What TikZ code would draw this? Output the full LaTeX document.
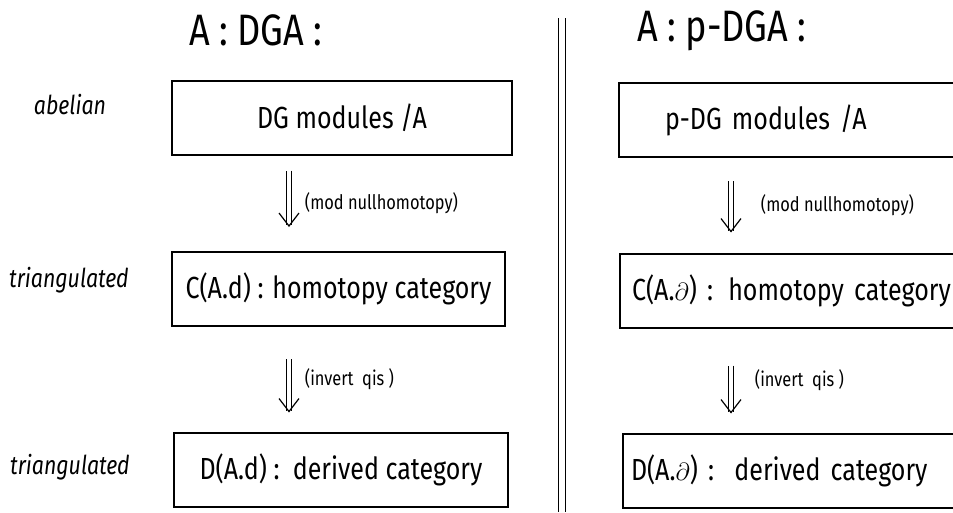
\documentclass[tikz,border=0pt]{standalone}
\usepackage{fontspec}
\setmainfont{Fira Sans}[FakeStretch=0.82]
\usetikzlibrary{arrows.meta,positioning}

\begin{document}
\begin{tikzpicture}[x=1pt,y=1pt,
    catbox/.style={draw, line width=2pt, minimum height=74pt, inner sep=0pt,
                   font=\fontsize{30.5}{36}\selectfont},
    kindlbl/.style={font=\fontsize{26}{30}\selectfont\itshape},
    steplbl/.style={font=\fontsize{20}{24}\selectfont},
    dgatitle/.style={font=\fontsize{44}{50}\selectfont},
    quot/.style={double, double distance=3.5pt, line width=1.2pt,
                 -{Straight Barb[length=13pt,width=20pt]}}]
  \useasboundingbox (0,0) rectangle (953,-512);

  % left column: ordinary DGA
  \node[dgatitle] (dgattl) at (256,-30) {A : DGA :};
  \node[catbox, minimum width=340pt] (dgmod) at (342,-117.5) {DG modules /A};
  \node[catbox, minimum width=333pt] (homot) at (338.5,-289) {C(A.d) : homotopy category};
  \node[catbox, minimum width=334pt] (deriv) at (341,-469.5) {D(A.d) :\ \ derived category};

  \node[kindlbl] (abel) at (70,-105) {abelian};
  \node[kindlbl] (triaa) at (69,-280) {triangulated};
  \node[kindlbl] (triab) at (70,-467) {triangulated};

  \coordinate (lcol) at (289,0);
  \coordinate (rcol) at (731,0);

  \draw[quot, shorten <=15pt, shorten >=24pt] (dgmod.south -| lcol) -- (homot.north -| lcol)
    node[midway, right=12pt, steplbl] {(mod nullhomotopy)};
  \draw[quot, shorten <=32pt, shorten >=19pt] (homot.south -| lcol) -- (deriv.north -| lcol)
    node[midway, right=12pt, steplbl] {(invert\ \ qis )};

  % separator
  \coordinate (septop) at (562,-18);
  \coordinate (sepbot) at (562,-512);
  \draw[double, double distance=5.5pt, line width=1.6pt] (septop) -- (sepbot);

  % right column: p-DGA
  \node[dgatitle] (pdgattl) at (722,-31) {A : p-DGA :};
  \node[catbox, anchor=west, text width=333pt, inner xsep=6pt, align=left] (pdgmod) at (618,-120)
    {\hspace*{40pt}p-DG modules /A};
  \node[catbox, anchor=west, text width=333pt, inner xsep=6pt, align=left] (phomot) at (619,-290.5)
    {\hspace*{6pt}C(A.$\partial$) : homotopy category};
  \node[catbox, anchor=west, text width=333pt, inner xsep=6pt, align=left] (pderiv) at (622,-470.5)
    {\hspace*{2pt}D(A.$\partial$) :\ \ derived category};

  \draw[quot, shorten <=23pt, shorten >=20pt] (pdgmod.south -| rcol) -- (phomot.north -| rcol)
    node[midway, right=26pt, steplbl] {(mod nullhomotopy)};
  \draw[quot, shorten <=37pt, shorten >=19pt] (phomot.south -| rcol) -- (pderiv.north -| rcol)
    node[midway, right=20pt, steplbl] {(invert\ \ qis )};
\end{tikzpicture}
\end{document}
